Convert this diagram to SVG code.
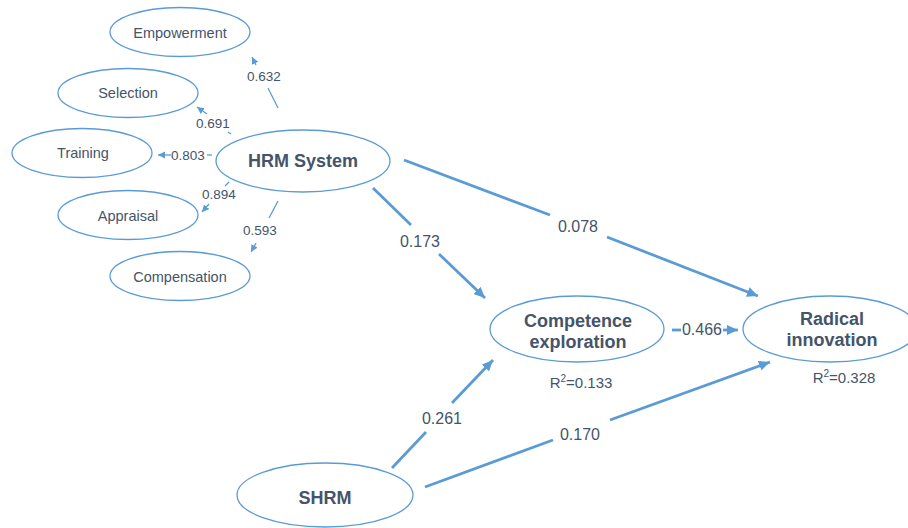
<svg xmlns="http://www.w3.org/2000/svg" width="908" height="528" viewBox="0 0 908 528">
<style>
.node ellipse{fill:#fff;stroke:#5B9BD5;stroke-width:1.3}
.t{font-family:"Liberation Sans",Arial,sans-serif;fill:#44546A;text-anchor:middle}
.ind{font-size:14.5px}
.lat{font-size:18px;font-weight:bold}
.sm{font-size:13.5px}
.lg{font-size:16px}
.thin{stroke:#5B9BD5;stroke-width:1.3;fill:none}
.thick{stroke:#5B9BD5;stroke-width:2.8;fill:none}
</style>
<defs>
<marker id="ah" markerUnits="userSpaceOnUse" markerWidth="12" markerHeight="10" refX="11" refY="5" orient="auto">
<path d="M0,0 L11,5 L0,10 Z" fill="#5B9BD5"/>
</marker>
<marker id="as" markerUnits="userSpaceOnUse" markerWidth="8" markerHeight="8" refX="7" refY="3.5" orient="auto">
<path d="M0,0 L7,3.5 L0,7 Z" fill="#5B9BD5"/>
</marker>
</defs>
<rect width="908" height="528" fill="#fff"/>
<g id="connectors">
<line class="thin" x1="278" y1="108" x2="268" y2="88"/>
<line class="thin" x1="256" y1="65" x2="252" y2="57" marker-end="url(#as)"/>
<line class="thin" x1="231" y1="134" x2="228" y2="132"/>
<line class="thin" x1="207" y1="114" x2="197" y2="107" marker-end="url(#as)"/>
<line class="thin" x1="212" y1="155" x2="207" y2="155"/>
<line class="thin" x1="171" y1="155" x2="158" y2="155" marker-end="url(#as)"/>
<line class="thin" x1="229" y1="182" x2="225" y2="186"/>
<line class="thin" x1="209" y1="204" x2="202" y2="212" marker-end="url(#as)"/>
<line class="thin" x1="278" y1="201" x2="269" y2="218"/>
<line class="thin" x1="256" y1="243" x2="251" y2="252" marker-end="url(#as)"/>
<line class="thick" x1="404" y1="160" x2="550" y2="215"/>
<line class="thick" x1="607" y1="237" x2="758" y2="296" marker-end="url(#ah)"/>
<line class="thick" x1="373" y1="188" x2="411" y2="225"/>
<line class="thick" x1="439" y1="254" x2="485" y2="298" marker-end="url(#ah)"/>
<line class="thick" x1="672" y1="330" x2="681" y2="330"/>
<line class="thick" x1="723" y1="330" x2="738" y2="330" marker-end="url(#ah)"/>
<line class="thick" x1="392" y1="468" x2="426" y2="432"/>
<line class="thick" x1="452" y1="403" x2="493" y2="360" marker-end="url(#ah)"/>
<line class="thick" x1="425" y1="487" x2="553" y2="440"/>
<line class="thick" x1="610" y1="420" x2="770" y2="362" marker-end="url(#ah)"/>
<text class="t sm" x="264" y="81">0.632</text>
<text class="t sm" x="213" y="128">0.691</text>
<text class="t sm" x="188" y="160">0.803</text>
<text class="t sm" x="219" y="199">0.894</text>
<text class="t sm" x="260" y="235">0.593</text>
<text class="t lg" x="578" y="232">0.078</text>
<text class="t lg" x="420" y="247">0.173</text>
<text class="t lg" x="702" y="335">0.466</text>
<text class="t lg" x="442" y="424">0.261</text>
<text class="t lg" x="580" y="440">0.170</text>
</g>
<g id="empowerment" class="node"><ellipse cx="180" cy="32" rx="70" ry="24.5"/><text class="t ind" x="180" y="38">Empowerment</text></g>
<g id="selection" class="node"><ellipse cx="128" cy="93" rx="70" ry="24.5"/><text class="t ind" x="128" y="98">Selection</text></g>
<g id="training" class="node"><ellipse cx="82" cy="153" rx="70" ry="24.5"/><text class="t ind" x="83" y="158">Training</text></g>
<g id="appraisal" class="node"><ellipse cx="128" cy="215" rx="70" ry="24.5"/><text class="t ind" x="128" y="221">Appraisal</text></g>
<g id="compensation" class="node"><ellipse cx="180" cy="276" rx="70" ry="24.5"/><text class="t ind" x="180" y="282">Compensation</text></g>
<g id="hrm" class="node"><ellipse cx="303" cy="161" rx="87" ry="31"/><text class="t lat" x="303" y="167">HRM System</text></g>
<g id="competence" class="node"><ellipse cx="577" cy="329" rx="87" ry="33"/><text class="t lat" x="578" y="327">Competence</text><text class="t lat" x="578" y="348">exploration</text><text class="t" style="font-size:15px" x="581" y="388">R<tspan font-size="10" dy="-6">2</tspan><tspan dy="6">=0.133</tspan></text></g>
<g id="radical" class="node"><ellipse cx="830" cy="329" rx="87" ry="33"/><text class="t lat" x="832" y="325">Radical</text><text class="t lat" x="832" y="346">innovation</text><text class="t" style="font-size:15px" x="844" y="383">R<tspan font-size="10" dy="-6">2</tspan><tspan dy="6">=0.328</tspan></text></g>
<g id="shrm" class="node"><ellipse cx="325" cy="495" rx="88" ry="32"/><text class="t lat" x="325" y="504">SHRM</text></g>
</svg>
